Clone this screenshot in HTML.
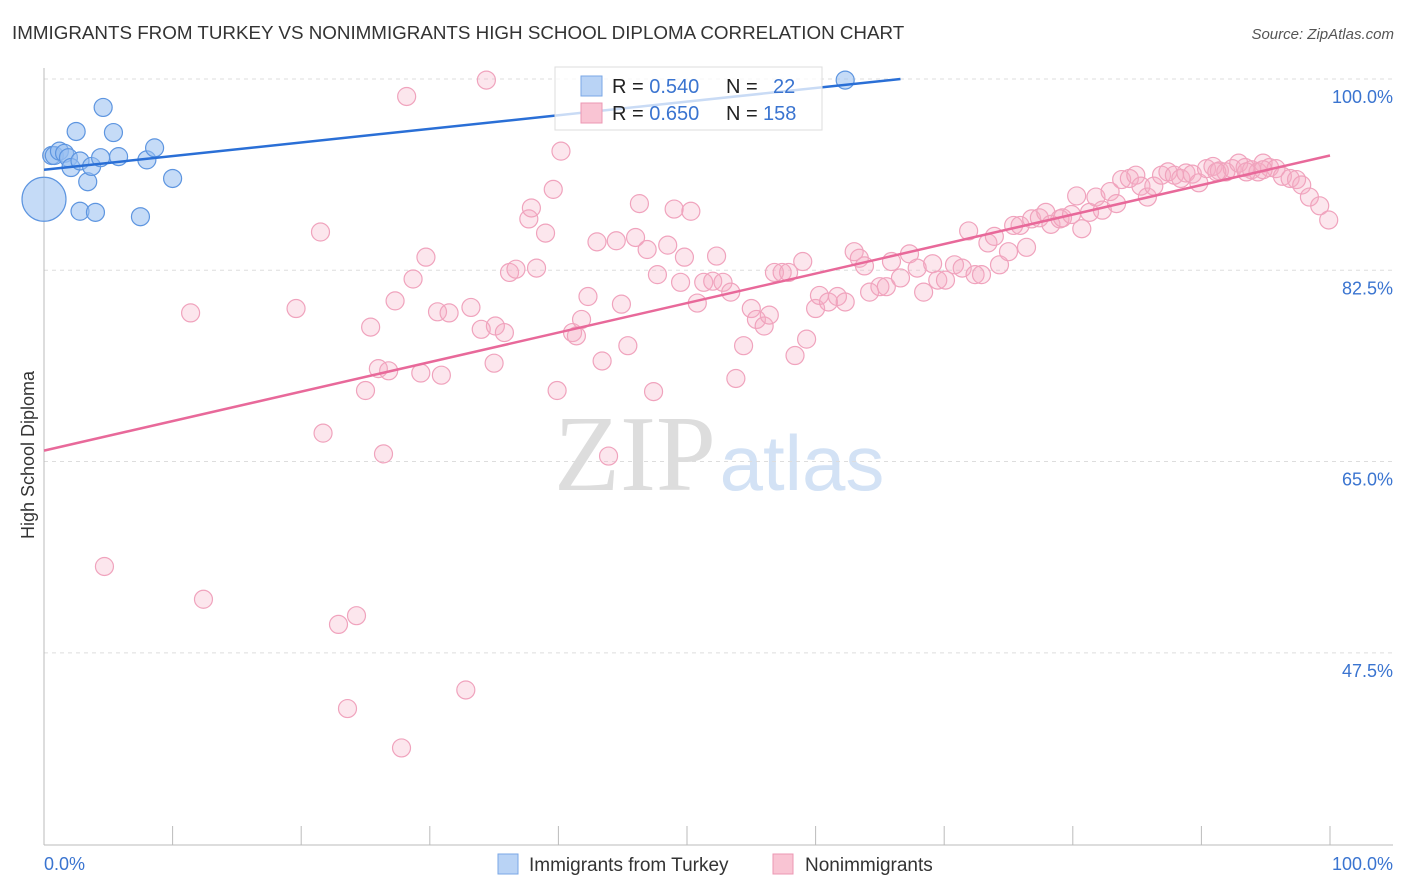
<!DOCTYPE html>
<html><head><meta charset="utf-8">
<style>
body{margin:0;background:#fff;font-family:"Liberation Sans",sans-serif;}
#wrap{position:relative;width:1406px;height:892px;overflow:hidden;}
</style></head>
<body>
<div id="wrap">
<svg id="chart" width="1406" height="892" xmlns="http://www.w3.org/2000/svg">
<text x="12" y="39" font-size="18.8" fill="#333">IMMIGRANTS FROM TURKEY VS NONIMMIGRANTS HIGH SCHOOL DIPLOMA CORRELATION CHART</text>
<text x="1394" y="39" font-size="15" fill="#555" font-style="italic" text-anchor="end">Source: ZipAtlas.com</text>
<text transform="translate(34,455) rotate(-90)" font-size="18" fill="#333" text-anchor="middle">High School Diploma</text>
<g>
<text x="635" y="490" font-size="108" fill="#ddd" font-family="Liberation Serif" text-anchor="middle">ZIP</text>
<text x="802" y="490" font-size="78" fill="#d3e2f5" text-anchor="middle">atlas</text>
</g>
<g id="grid"></g>
<g id="axes"></g>
<g id="pts"></g>
<g id="lines"></g>
<g>
<rect x="555" y="67" width="267" height="63" fill="#fff" fill-opacity="0.75" stroke="#ddd"/>
<rect x="581" y="76" width="21" height="20" fill="#b9d3f5" stroke="#7aa7e6"/>
<text x="612" y="93" font-size="20" fill="#222">R = <tspan fill="#3a74d0">0.540</tspan><tspan x="726">N =</tspan><tspan x="773" fill="#3a74d0">22</tspan></text>
<rect x="581" y="103" width="21" height="20" fill="#f9c4d3" stroke="#ec97b3"/>
<text x="612" y="120" font-size="20" fill="#222">R = <tspan fill="#3a74d0">0.650</tspan><tspan x="726">N =</tspan><tspan x="763" fill="#3a74d0">158</tspan></text>
</g>
<g>
<rect x="498" y="854" width="20" height="20" fill="#b9d3f5" stroke="#7aa7e6"/>
<text x="529" y="871" font-size="19" fill="#333">Immigrants from Turkey</text>
<rect x="773" y="854" width="20" height="20" fill="#f9c4d3" stroke="#ec97b3"/>
<text x="805" y="871" font-size="19" fill="#333">Nonimmigrants</text>
</g>
</svg>
</div>
<script>
const yTicks=[100,82.5,65,47.5];
const yTickLabels=["100.0%","82.5%","65.0%","47.5%"];
const xTickLabels=["0.0%","100.0%"];
const blueX=[0,0.6,0.8,1.2,1.6,1.9,2.1,2.5,2.8,2.8,3.4,3.7,4.0,4.4,4.6,5.4,5.8,7.5,8.0,8.6,10.0,62.3];
const blueY=[89.0,93.0,93.0,93.4,93.2,92.8,91.9,95.2,92.5,87.9,90.6,92.0,87.8,92.8,97.4,95.1,92.9,87.4,92.6,93.7,90.9,99.9];
const blueR=[22,9,9,9,9,9,9,9,9,9,9,9,9,9,9,9,9,9,9,9,9,9];
const pinkX=[34.4,28.2,40.2,39.6,37.7,37.9,39.0,21.5,29.7,28.7,27.3,25.4,19.6,11.4,30.6,31.5,33.2,34.0,35.1,35.8,36.2,36.7,38.3,35.0,26.0,26.8,29.3,30.9,25.0,21.7,26.4,4.7,12.4,22.9,24.3,32.8,23.6,27.8,39.9,43.9,47.4,43.4,45.4,41.1,41.4,41.8,42.3,44.9,43.0,44.5,46.0,46.9,48.5,49.8,46.3,49.0,50.3,47.7,49.5,50.8,52.3,51.3,52.0,52.8,53.4,54.4,53.8,55.0,55.4,56.0,56.4,58.4,59.3,56.8,57.4,57.9,59.0,60.0,60.3,61.0,61.7,62.3,63.0,63.4,63.8,64.2,65.0,65.5,65.9,66.6,67.3,67.9,68.4,69.1,69.5,70.1,70.8,71.4,71.9,72.4,72.9,73.4,73.9,74.3,75.0,75.4,75.9,76.4,76.8,77.4,77.9,78.3,79.0,79.2,79.9,80.3,80.7,81.3,81.8,82.3,82.9,83.4,83.8,84.4,84.9,85.3,85.8,86.3,86.9,87.4,87.9,88.4,88.8,89.3,89.8,90.4,90.9,91.4,91.9,92.4,92.9,93.4,93.9,94.4,94.8,95.3,95.8,96.3,96.9,97.4,97.8,98.4,99.2,99.9,91.2,93.5,94.8];
const pinkY=[99.9,98.4,93.4,89.9,87.2,88.2,85.9,86.0,83.7,81.7,79.7,77.3,79.0,78.6,78.7,78.6,79.1,77.1,77.4,76.8,82.3,82.6,82.7,74.0,73.5,73.3,73.1,72.9,71.5,67.6,65.7,55.4,52.4,50.1,50.9,44.1,42.4,38.8,71.5,65.5,71.4,74.2,75.6,76.8,76.5,78.0,80.1,79.4,85.1,85.2,85.5,84.4,84.8,83.7,88.6,88.1,87.9,82.1,81.4,79.5,83.8,81.4,81.5,81.4,80.5,75.6,72.6,79.0,78.0,77.4,78.4,74.7,76.2,82.3,82.3,82.3,83.3,79.0,80.2,79.6,80.1,79.6,84.2,83.6,82.9,80.5,81.0,81.0,83.3,81.8,84.0,82.7,80.5,83.1,81.6,81.6,83.0,82.7,86.1,82.1,82.1,85.0,85.6,83.0,84.2,86.6,86.6,84.6,87.2,87.3,87.8,86.7,87.2,87.3,87.6,89.3,86.3,87.8,89.2,88.0,89.7,88.6,90.8,90.9,91.2,90.2,89.2,90.2,91.2,91.5,91.2,90.9,91.4,91.3,90.5,91.8,92.0,91.6,91.5,91.8,92.3,91.9,91.7,91.5,92.3,91.9,91.8,91.1,90.9,90.8,90.3,89.2,88.4,87.1,91.5,91.5,91.7];
const blueTrend=[91.7,100];
const blueTrendX=[0,66.6];
const pinkTrend=[66.0,93.0];
const pinkTrendX=[0,100];

const NS="http://www.w3.org/2000/svg";
const X0=44,X1=1330,Y100=79,PXY=10.93;
const xs=v=>X0+(X1-X0)*v/100;
const ys=v=>Y100+(100-v)*PXY;
function mk(tag,attrs,parent){const e=document.createElementNS(NS,tag);for(const k in attrs)e.setAttribute(k,attrs[k]);parent.appendChild(e);return e;}
const grid=document.getElementById('grid'),axes=document.getElementById('axes'),pts=document.getElementById('pts'),lines=document.getElementById('lines');
yTicks.forEach((t,i)=>{
  const l=mk('line',{x1:X0,x2:1393,y1:ys(t),y2:ys(t),stroke:'#ddd','stroke-dasharray':'4,4'},grid);
  
  
  const tx=mk('text',{x:1393,y:ys(t)+24,'font-size':18,fill:'#3a74d0','text-anchor':'end'},axes);
  tx.textContent=yTickLabels[i];
  
  
});
const ax=mk('line',{x1:X0,x2:1393,y1:845,y2:845,stroke:'#bbb'},axes);


const ay=mk('line',{x1:X0,x2:X0,y1:68,y2:845,stroke:'#bbb'},axes);


for(let i=0;i<=10;i++){
  const t=mk('line',{x1:xs(i*10),x2:xs(i*10),y1:826,y2:845,stroke:'#bbb'},axes);
  
  
}
[[0,'start',44],[100,'end',1393]].forEach((d,i)=>{
  const t=mk('text',{x:d[2],y:870,'font-size':18,fill:'#3a74d0','text-anchor':d[1]},axes);
  t.textContent=xTickLabels[i];
  
  
});
pinkX.forEach((v,i)=>{
  const c=mk('circle',{cx:xs(v),cy:ys(pinkY[i]),r:9,fill:'rgba(246,172,197,0.3)',stroke:'#f0a3bd','stroke-width':1.2},pts);
  
  
});
blueX.forEach((v,i)=>{
  const c=mk('circle',{cx:xs(v),cy:ys(blueY[i]),r:blueR[i],fill:'rgba(150,190,240,0.55)',stroke:'#5d95e0','stroke-width':1.2},pts);
  
  
});
const pl=mk('line',{x1:xs(pinkTrendX[0]),y1:ys(pinkTrend[0]),x2:xs(pinkTrendX[1]),y2:ys(pinkTrend[1]),stroke:'#e8699a','stroke-width':2.5},lines);


const bl=mk('line',{x1:xs(blueTrendX[0]),y1:ys(blueTrend[0]),x2:xs(blueTrendX[1]),y2:ys(blueTrend[1]),stroke:'#2a6fd6','stroke-width':2.5},lines);


</script>
</body></html>
